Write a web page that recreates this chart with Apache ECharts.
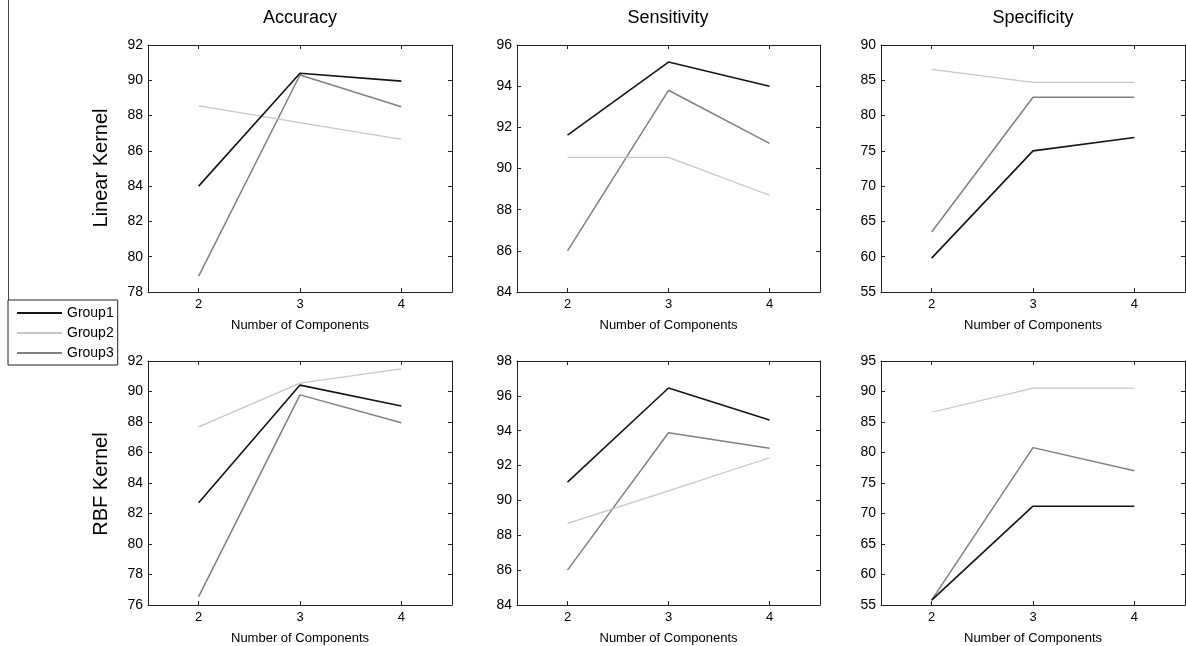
<!DOCTYPE html>
<html>
<head>
<meta charset="utf-8">
<script src="https://cdn.jsdelivr.net/npm/echarts@6/dist/echarts.min.js"></script>
<style>html,body{margin:0;padding:0;background:#fff;}#c{width:1186px;height:646px;}</style>
</head>
<body>
<div id="c"></div>
<script>
const components = ['2', '3', '4'];
const groupNames = ['Group1', 'Group2', 'Group3'];
const colTitles = ['Accuracy', 'Sensitivity', 'Specificity'];
const rowTitles = ['Linear Kernel', 'RBF Kernel'];
const xAxisTitle = 'Number of Components';

// Linear kernel
const accLinG1 = [84.0, 90.4, 89.95];
const accLinG2 = [88.55, 87.6, 86.65];
const accLinG3 = [78.9, 90.3, 88.5];
const sensLinG1 = [91.62, 95.17, 94.0];
const sensLinG2 = [90.54, 90.54, 88.7];
const sensLinG3 = [86.0, 93.8, 91.22];
const specLinG1 = [59.8, 75.0, 76.9];
const specLinG2 = [86.55, 84.7, 84.7];
const specLinG3 = [63.5, 82.6, 82.6];
// RBF kernel
const accRbfG1 = [82.7, 90.42, 89.05];
const accRbfG2 = [87.68, 90.55, 91.48];
const accRbfG3 = [76.55, 89.78, 87.95];
const sensRbfG1 = [91.05, 96.45, 94.62];
const sensRbfG2 = [88.68, 90.55, 92.45];
const sensRbfG3 = [86.0, 93.88, 93.0];
const specRbfG1 = [55.8, 71.2, 71.2];
const specRbfG2 = [86.6, 90.55, 90.55];
const specRbfG3 = [55.8, 80.8, 77.0];

// y ranges [min, max, interval]
const yRanges = [
  [78, 92, 2], [84, 96, 2], [55, 90, 5],
  [76, 92, 2], [84, 98, 2], [55, 95, 5]
];
const panelData = [
  [accLinG1, accLinG2, accLinG3], [sensLinG1, sensLinG2, sensLinG3], [specLinG1, specLinG2, specLinG3],
  [accRbfG1, accRbfG2, accRbfG3], [sensRbfG1, sensRbfG2, sensRbfG3], [specRbfG1, specRbfG2, specRbfG3]
];

const FONT = '"Liberation Sans", Arial, Helvetica, sans-serif';
const colLeft = [148, 517, 881];
const colWidth = [304, 303, 304];
const rowTop = [45, 361];
const rowHeight = [247, 246];
const groupColors = ['#151515', '#c6c6c6', '#808080'];
const groupWidths = [1.6, 1.2, 1.5];

const grids = [], xAxes = [], yAxes = [], series = [];
for (let i = 0; i < 6; i++) {
  const r = Math.floor(i / 3), c = i % 3;
  grids.push({left: colLeft[c], top: rowTop[r], width: colWidth[c], height: rowHeight[r], containLabel: false});
  const lineStyle = {color: '#222', width: 1};
  xAxes.push({
    type: 'category', gridIndex: i, data: components, boundaryGap: true, position: 'bottom',
    axisLine: {show: true, onZero: false, lineStyle},
    axisTick: {show: true, inside: true, alignWithLabel: true, length: 4, lineStyle},
    axisLabel: {color: '#000', fontSize: 13, fontFamily: FONT, margin: 6},
    splitLine: {show: false},
    name: xAxisTitle, nameLocation: 'middle', nameGap: 27,
    nameTextStyle: {color: '#000', fontSize: 13, fontFamily: FONT}
  });
  xAxes.push({
    type: 'category', gridIndex: i, data: components, boundaryGap: true, position: 'top',
    axisLine: {show: true, onZero: false, lineStyle},
    axisTick: {show: true, inside: true, alignWithLabel: true, length: 4, lineStyle},
    axisLabel: {show: false}, splitLine: {show: false}
  });
  const yr = yRanges[i];
  yAxes.push({
    type: 'value', gridIndex: i, min: yr[0], max: yr[1], interval: yr[2], position: 'left',
    axisLine: {show: true, onZero: false, lineStyle},
    axisTick: {show: true, inside: true, length: 4, lineStyle},
    axisLabel: {color: '#000', fontSize: 14, fontFamily: FONT, margin: 5},
    splitLine: {show: false}
  });
  yAxes.push({
    type: 'value', gridIndex: i, min: yr[0], max: yr[1], interval: yr[2], position: 'right',
    axisLine: {show: true, onZero: false, lineStyle},
    axisTick: {show: true, inside: true, length: 4, lineStyle},
    axisLabel: {show: false}, splitLine: {show: false}
  });
  for (let g = 0; g < 3; g++) {
    series.push({
      type: 'line', name: groupNames[g], xAxisIndex: 2 * i, yAxisIndex: 2 * i,
      data: panelData[i][g], symbol: 'none', animation: false,
      lineStyle: {color: groupColors[g], width: groupWidths[g]},
      itemStyle: {color: groupColors[g]}, z: 3 - g
    });
  }
}

const graphics = [];
const colCenters = [300, 668, 1033];
colTitles.forEach((t, c) => graphics.push({
  type: 'text', x: colCenters[c], y: 18,
  style: {text: t, fontSize: 18, fontFamily: FONT, fill: '#000', textAlign: 'center', textVerticalAlign: 'middle'}
}));
const rowCenters = [168, 484];
rowTitles.forEach((t, r) => graphics.push({
  type: 'text', x: 101, y: rowCenters[r], rotation: Math.PI / 2,
  style: {text: t, fontSize: 20, fontFamily: FONT, fill: '#000', textAlign: 'center', textVerticalAlign: 'middle'}
}));
graphics.push({type: 'line', shape: {x1: 8.5, y1: 0, x2: 8.5, y2: 300}, style: {stroke: '#444', lineWidth: 1}});

const chart = echarts.init(document.getElementById('c'), null, {renderer: 'canvas'});
chart.setOption({
  animation: false,
  backgroundColor: '#fff',
  grid: grids, xAxis: xAxes, yAxis: yAxes, series,
  legend: {
    data: groupNames, orient: 'vertical', left: 8, top: 300,
    icon: 'rect', itemWidth: 45, itemHeight: 2, itemGap: 6,
    padding: [6, 4, 5, 9],
    borderColor: '#222', borderWidth: 1, borderRadius: 0, backgroundColor: '#fff',
    textStyle: {color: '#000', fontSize: 14, fontFamily: FONT},
    z: 10
  },
  graphic: graphics
});
</script>
</body>
</html>
